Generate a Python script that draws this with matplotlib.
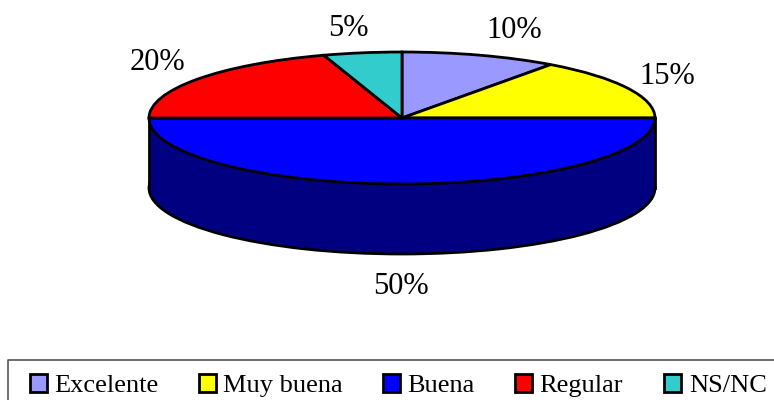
import matplotlib
matplotlib.use('Agg')
import matplotlib.pyplot as plt
from matplotlib.patches import Rectangle

plt.rcParams['font.family'] = ['Liberation Serif', 'DejaVu Serif']

categorias = ['Excelente', 'Muy buena', 'Buena', 'Regular', 'NS/NC']
valores = [10, 15, 50, 20, 5]
etiquetas = ['10%', '15%', '50%', '20%', '5%']
colores = ['#9999FF', '#FFFF00', '#0000FF', '#FF0000', '#33CCCC']
oscuro = '#000080'

W, H = 774, 400
fig = plt.figure(figsize=(W / 100, H / 100), dpi=100)

# el pastel va en unos ejes no cuadrados para que salga la elipse
cx, cy, rx, ry = 402, 118, 253, 66
ax = fig.add_axes([(cx - rx) / W, 1 - (cy + ry) / H, 2 * rx / W, 2 * ry / H])

fondo = 70 / ry
grosor = 2.0
# pared lateral: pastel oscuro abajo y rectangulo entre los dos
ax.pie([1], colors=[oscuro], center=(0, -fondo), radius=1, frame=True,
       wedgeprops=dict(edgecolor='black', linewidth=grosor, clip_on=False))
ax.add_patch(Rectangle((-1, -fondo), 2, fondo, facecolor=oscuro, edgecolor='none', clip_on=False))
ax.plot([-1, -1], [0, -fondo], color='black', lw=grosor, clip_on=False)
ax.plot([1, 1], [0, -fondo], color='black', lw=grosor, clip_on=False)

cunas, _ = ax.pie(valores, colors=colores, startangle=90, counterclock=False, radius=1,
                  frame=True, wedgeprops=dict(edgecolor='black', linewidth=grosor, clip_on=False))
ax.set_aspect('auto')
ax.set_xlim(-1, 1)
ax.set_ylim(-1, 1)
ax.axis('off')

# textos y leyenda en pixeles
tx = fig.add_axes([0, 0, 1, 1], zorder=5)
tx.set_xlim(0, W)
tx.set_ylim(H, 0)
tx.axis('off')

pos_etiquetas = [(514, 30), (667, 77), (401, 286), (157, 62), (348, 29)]
for txt, (x, y) in zip(etiquetas, pos_etiquetas):
    tx.text(x, y, txt, fontsize=22, ha='center', va='center', color='black')

# caja de la leyenda, cortada por el borde derecho
tx.plot([774, 8, 8], [359.5, 359.5, 400], color='#555555', lw=1.2, clip_on=False)
x_cuadro = [30, 199, 383, 515, 664]
x_texto = [54, 223, 407, 539, 689]
for nombre, color, x, xt in zip(categorias, colores, x_cuadro, x_texto):
    tx.add_patch(Rectangle((x, 374), 17, 18, facecolor=color, edgecolor='black', lw=2))
    tx.text(xt, 386, nombre, fontsize=19, ha='left', va='center', color='black')

fig.savefig('out.png', dpi=100)
